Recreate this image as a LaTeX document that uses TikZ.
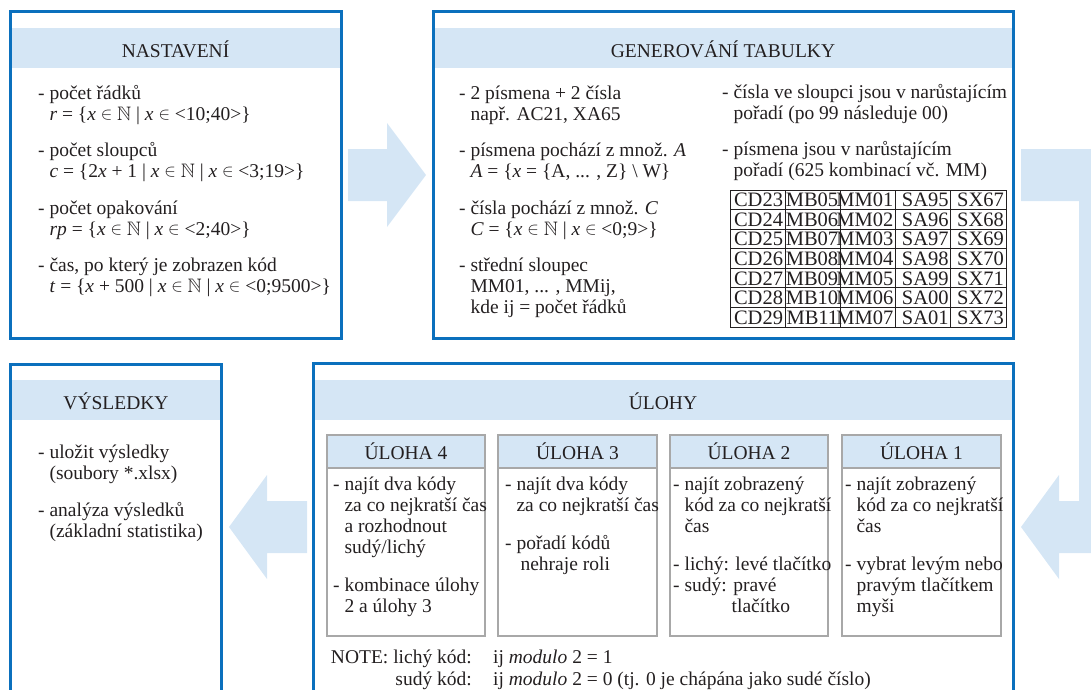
\documentclass[tikz,border=0pt]{standalone}
\usepackage{fontspec}
\setmainfont{Liberation Serif}
\usepackage{amssymb}
\definecolor{boxblue}{HTML}{0B70BD}
\definecolor{bandblue}{HTML}{D5E6F5}
\definecolor{subgray}{HTML}{A8A8A8}
\definecolor{ink}{HTML}{231F20}
\newcommand{\ind}{\hphantom{-\ }}
\newcommand{\el}{\raisebox{0.9pt}{\fontsize{16.5}{16}\selectfont$\in$}}
\newcommand{\NN}{$\mathbb{N}$}
\newcommand{\txtfont}{\fontsize{19.5}{21}\selectfont}
\newcommand{\tabfont}{\fontsize{20.5}{21}\selectfont}
\tikzset{
  bigbox/.style={draw=boxblue, line width=3pt, inner sep=0pt, outer sep=0pt, anchor=north west},
  subbox/.style={draw=subgray, line width=1.8pt, inner sep=0pt, outer sep=0pt, anchor=north west},
  bandfill/.style={fill=bandblue, draw=none},
  hdr/.style={anchor=base, inner sep=0pt, font=\txtfont, text=ink},
  ln/.style={anchor=base west, inner sep=0pt, font=\txtfont, text=ink},
  tabtxt/.style={anchor=base east, inner sep=0pt, font=\tabfont, text=ink},
  tabline/.style={draw=ink, line width=0.8pt},
  blockarrow/.style={fill=bandblue, draw=none},
}
\begin{document}
\begin{tikzpicture}[x=1pt,y=-1pt]
\useasboundingbox (0,0) rectangle (1091,689);
\clip (0,0) rectangle (1091,689);

% ---------- block arrows ----------
\fill[blockarrow] (348,149) -- (387,149) -- (387,123) -- (426,175) -- (387,227) -- (387,201) -- (348,201) -- cycle;
\fill[blockarrow] (307,501) -- (267,501) -- (267,475) -- (229,527) -- (267,579) -- (267,553) -- (307,553) -- cycle;
\fill[blockarrow] (1021,149) -- (1100,149) -- (1100,553) -- (1059,553) -- (1059,579) -- (1021,527) -- (1059,475) -- (1059,501) -- (1079,501) -- (1079,201) -- (1021,201) -- cycle;

% ---------- NASTAVENI ----------
\fill[bandfill] (11.5,28) rectangle (340,68);
\node[bigbox, minimum width=331.5pt, minimum height=327pt] (nast) at (10,11.5) {};
\node[hdr] (nast-h) at (175.5,57.5) {NASTAVENÍ};
\foreach \y/\t [count=\k] in {
  99.5/{- počet řádků},
  120.5/{\ind\textit{r} = \{\textit{x} \el{} \NN{} | \textit{x} \el{} <10;40>\}},
  156.8/{- počet sloupců},
  177.8/{\ind\textit{c} = \{2\textit{x} + 1 | \textit{x} \el{} \NN{} | \textit{x} \el{} <3;19>\}},
  214.1/{- počet opakování},
  235.1/{\ind\textit{rp} = \{\textit{x} \el{} \NN{} | \textit{x} \el{} <2;40>\}},
  271.4/{- čas, po který je zobrazen kód},
  292.4/{\ind\textit{t} = \{\textit{x} + 500 | \textit{x} \el{} \NN{} | \textit{x} \el{} <0;9500>\}}}
  {\node[ln] (nast-\k) at (38,\y) {\t};}

% ---------- GENEROVANI ----------
\fill[bandfill] (434.5,28) rectangle (1012,68);
\node[bigbox, minimum width=580.5pt, minimum height=327pt] (gen) at (433,11.5) {};
\node[hdr] (gen-h) at (723,57.5) {GENEROVÁNÍ TABULKY};
\foreach \y/\t [count=\k] in {
  99.5/{- 2 písmena + 2 čísla},
  120.5/{\ind např. AC21, XA65},
  156.8/{- písmena pochází z množ. \textit{A}},
  177.8/{\ind\textit{A} = \{\textit{x} = \{A, ... , Z\} \textbackslash{} W\}},
  214.1/{- čísla pochází z množ. \textit{C}},
  235.1/{\ind\textit{C} = \{\textit{x} \el{} \NN{} | \textit{x} \el{} <0;9>\}},
  271.4/{- střední sloupec},
  292.4/{\ind MM01, ... , MMij,},
  313.4/{\ind kde ij = počet řádků}}
  {\node[ln] (genl-\k) at (459,\y) {\t};}
\foreach \y/\t [count=\k] in {
  98.5/{- čísla ve sloupci jsou v narůstajícím},
  119.5/{\ind pořadí (po 99 následuje 00)},
  155.8/{- písmena jsou v narůstajícím},
  176.8/{\ind pořadí (625 kombinací vč. MM)}}
  {\node[ln] (genr-\k) at (722,\y) {\t};}

% table
\draw[tabline] (730,190) rectangle (1006,327);
\foreach \i in {1,...,6} \draw[tabline] (730,190+19.571*\i) -- (1006,190+19.571*\i);
\foreach \i in {1,...,4} \draw[tabline] (730+55.2*\i,190) -- (730+55.2*\i,327);
\foreach \row [count=\r from 0] in {{CD23,MB05,MM01,SA95,SX67},{CD24,MB06,MM02,SA96,SX68},{CD25,MB07,MM03,SA97,SX69},{CD26,MB08,MM04,SA98,SX70},{CD27,MB09,MM05,SA99,SX71},{CD28,MB10,MM06,SA00,SX72},{CD29,MB11,MM07,SA01,SX73}} {
  \foreach \cell [count=\c from 1] in \row {
    \node[tabtxt] (tab-\r-\c) at (730+55.2*\c-2, 190+19.571*\r+16.8) {\cell};
  }
}

% ---------- VYSLEDKY ----------
\fill[bandfill] (12,380) rectangle (220,420);
\node[bigbox, minimum width=211pt, minimum height=340pt] (vys) at (10.5,364) {};
\node[hdr] (vys-h) at (116,409.5) {VÝSLEDKY};
\foreach \y/\t [count=\k] in {
  458/{- uložit výsledky},
  479/{\ind(soubory *.xlsx)},
  516.5/{- analýza výsledků},
  537.5/{\ind(základní statistika)}}
  {\node[ln] (vys-\k) at (38,\y) {\t};}

% ---------- ULOHY ----------
\fill[bandfill] (314.5,380) rectangle (1012,420);
\node[bigbox, minimum width=700.5pt, minimum height=340pt] (ul) at (313,363.5) {};
\node[hdr] (ul-h) at (663,409.5) {ÚLOHY};

\foreach \L/\R/\n in {327/485/4, 498/657/3, 670/828/2, 842/1001/1} {
  \fill[bandfill] (\L,435) rectangle (\R,468);
  \draw[subgray, line width=1.2pt] (\L,468) -- (\R,468);
  \node[subbox, minimum width=\R pt-\L pt, minimum height=201pt] (u\n) at (\L,435) {};
  \node[hdr] (u\n-h) at ({(\L+\R)/2},459.3) {ÚLOHA \n};
}
\foreach \y/\t [count=\k] in {
  490.5/{- najít dva kódy},
  511.5/{\ind za co nejkratší čas},
  532.5/{\ind a rozhodnout},
  553.5/{\ind sudý/lichý},
  591.5/{- kombinace úlohy},
  612.5/{\ind 2 a úlohy 3}}
  {\node[ln] (u4-\k) at (333,\y) {\t};}
\foreach \y/\t [count=\k] in {
  490.5/{- najít dva kódy},
  511.5/{\ind za co nejkratší čas},
  549/{- pořadí kódů},
  570/{\ind\hspace{4pt}nehraje roli}}
  {\node[ln] (u3-\k) at (505,\y) {\t};}
\foreach \y/\t [count=\k] in {
  490.5/{- najít zobrazený},
  511.5/{\ind kód za co nejkratší},
  532.5/{\ind čas},
  570/{- lichý: levé tlačítko},
  591/{- sudý: pravé},
  612/{\hphantom{- sudý:\ }tlačítko}}
  {\node[ln] (u2-\k) at (673,\y) {\t};}
\foreach \y/\t [count=\k] in {
  490.5/{- najít zobrazený},
  511.5/{\ind kód za co nejkratší},
  532.5/{\ind čas},
  570/{- vybrat levým nebo},
  591/{\ind pravým tlačítkem},
  612/{\ind myši}}
  {\node[ln] (u1-\k) at (845,\y) {\t};}

% note
\node[hdr, anchor=base east] (note1) at (472,663.3) {NOTE: lichý kód:};
\node[hdr, anchor=base east] (note2) at (472,685) {sudý kód:};
\node[hdr, anchor=base west] (note3) at (493,663.3) {ij \textit{modulo} 2 = 1};
\node[hdr, anchor=base west] (note4) at (493,685) {ij \textit{modulo} 2 = 0 (tj. 0 je chápána jako sudé číslo)};
\end{tikzpicture}
\end{document}
